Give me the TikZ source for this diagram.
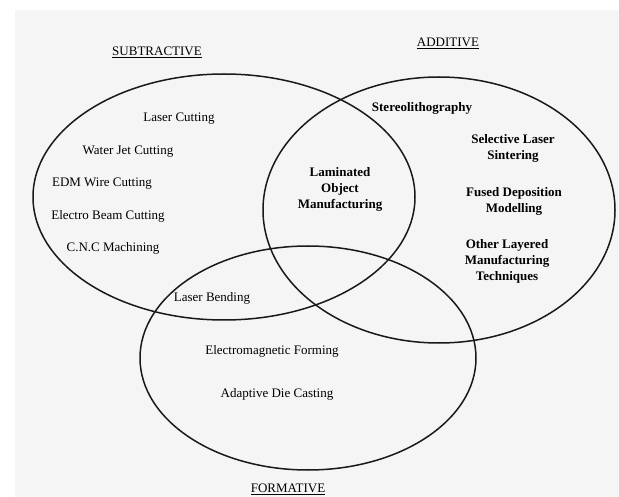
\documentclass[tikz,border=0pt]{standalone}
\usepackage{fontspec}
\setmainfont{Liberation Serif}
\usepackage{tikz}
\usetikzlibrary{positioning}

\tikzset{
    item/.style={font=\fontsize{13}{16}\selectfont, inner sep=0pt},
    bolditem/.style={item, font=\fontsize{13}{16}\selectfont\bfseries, align=center},
    settitle/.style={item},
    ring/.style={line width=1.5pt, draw=black!90}
}

\begin{document}
\begin{tikzpicture}[x=1pt,y=-1pt]
    \useasboundingbox (0,0) rectangle (619,497);
    \fill[white] (0,0) rectangle (619,497);
    \fill[black!4] (15,10) rectangle (619,497);

    % the three sets
    \draw[ring] (224,197) ellipse [x radius=191pt, y radius=123pt];
    \draw[ring] (439,210) ellipse [x radius=176pt, y radius=133pt];
    \draw[ring] (308,358) ellipse [x radius=168pt, y radius=112pt];

    % set titles
    \node[settitle] (subtitle) at (157,52) {\underline{SUBTRACTIVE}};
    \node[settitle] (addtitle) at (448,43) {\underline{ADDITIVE}};
    \node[settitle] (formtitle) at (288,489) {\underline{FORMATIVE}};

    % Subtractive only
    \foreach \name/\x/\y/\txt in {lc/179/119/Laser Cutting, wjc/128/152/Water Jet Cutting,
        edm/102/184/EDM Wire Cutting, ebc/108/216/Electro Beam Cutting, cnc/113/248/C.N.C Machining} {
        \node[item] (\name) at (\x,\y) {\txt};
    }

    % Subtractive and additive
    \node[bolditem] (lom) at (340,189) {Laminated\\Object\\Manufacturing};

    % Additive only
    \node[bolditem] (sla) at (422,108) {Stereolithography};
    \node[bolditem] (sls) at (513,148) {Selective Laser\\Sintering};
    \node[bolditem] (fdm) at (514,201) {Fused Deposition\\Modelling};
    \node[bolditem] (olm) at (507,261) {Other Layered\\Manufacturing\\Techniques};

    % Subtractive and formative
    \node[item] (lb) at (212,298) {Laser Bending};

    % Formative only
    \node[item] (emf) at (272,351) {Electromagnetic Forming};
    \node[item] (adc) at (277,394) {Adaptive Die Casting};
\end{tikzpicture}
\end{document}
